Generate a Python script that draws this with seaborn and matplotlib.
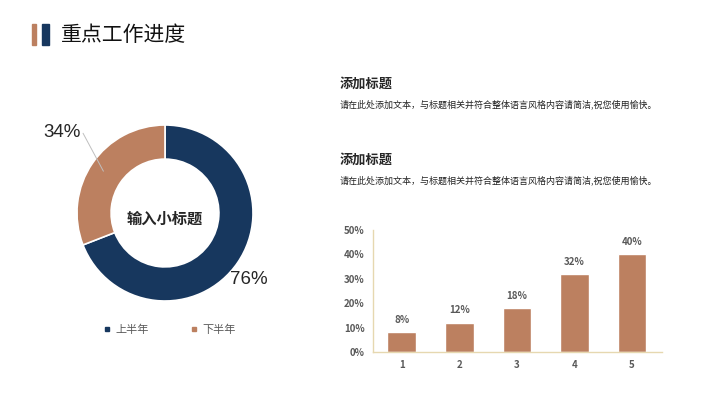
import numpy as np
import pandas as pd
import seaborn as sns
import matplotlib.pyplot as plt
from matplotlib.lines import Line2D
from matplotlib.patches import Rectangle

# data
donut_labels = ["上半年", "下半年"]
donut_values = [76, 34]
bar_categories = ["1", "2", "3", "4", "5"]
bar_values = [0.08, 0.12, 0.18, 0.32, 0.40]
bar_texts = ["8%", "12%", "18%", "32%", "40%"]
heading = "添加标题"
body = "请在此处添加文本，与标题相关并符合整体语言风格内容请简洁,祝您使用愉快。"

NAVY = "#17375E"
BROWN = "#BC8060"
AXIS = "#E6D8B0"
GRAY = "#595959"

sns.set_style("white")
plt.rcParams["font.family"] = ["Noto Sans CJK SC", "DejaVu Sans"]

W, H = 720, 405
fig = plt.figure(figsize=(7.2, 4.05), dpi=100)


def px(x, y, w, h):
    # pixel box (top-left origin) -> figure fraction
    return [x / W, 1 - (y + h) / H, w / W, h / H]


# title block
fig.patches.append(Rectangle((32 / W, 1 - 45 / H), 4 / W, 21 / H, transform=fig.transFigure,
                             color=BROWN))
fig.patches.append(Rectangle((42 / W, 1 - 45 / H), 7 / W, 21 / H, transform=fig.transFigure,
                             color=NAVY))
fig.text(61 / W, 1 - 35 / H, "重点工作进度", fontsize=15, va="center", color="#111111")

# text blocks
for y0 in (84, 160):
    fig.text(340 / W, 1 - y0 / H, heading, fontsize=9.5, fontweight="heavy", va="center")
    fig.text(340 / W, 1 - (y0 + 20) / H, body, fontsize=6.5, va="center", color="#222222")

# donut
ax1 = fig.add_axes(px(55, 103, 220, 220))
wedges, _ = ax1.pie(donut_values, colors=[NAVY, BROWN], startangle=90, counterclock=False,
                    radius=0.8, wedgeprops=dict(width=0.31, edgecolor="white", linewidth=1.2))
ax1.set_xlim(-1, 1)
ax1.set_ylim(-1, 1)
ax1.set_aspect("equal")
ax1.axis("off")
ax1.text(0, -0.05, "输入小标题", ha="center", va="center", fontsize=11, fontweight="heavy")
ax1.text(-0.94, 0.73, f"{donut_values[1]}%", ha="center", va="center", fontsize=13.5,
         family=["Liberation Sans", "DejaVu Sans"])
ax1.text(0.76, -0.6, f"{donut_values[0]}%", ha="center", va="center", fontsize=13.5,
         family=["Liberation Sans", "DejaVu Sans"])
ax1.plot([-0.745, -0.56], [0.725, 0.38], color="#BFBFBF", linewidth=0.7)

handles = [Line2D([], [], marker="s", linestyle="", color=c, markersize=3.5)
           for c in (NAVY, BROWN)]
fig.legend(handles, donut_labels, loc="center", bbox_to_anchor=(166 / W, 1 - 330 / H),
           ncol=2, frameon=False, fontsize=8, handletextpad=-0.2, columnspacing=3.0,
           labelcolor=GRAY)

# bar chart
ax2 = fig.add_axes(px(373, 230, 289, 122))
df = pd.DataFrame({"cat": bar_categories, "val": bar_values})
sns.barplot(data=df, x="cat", y="val", color=BROWN, width=0.5, saturation=1, ax=ax2)
ax2.set_xlim(-0.5, 4.52)
ax2.set_ylim(0, 0.5)
ax2.set_yticks(np.arange(0, 0.51, 0.1))
ax2.set_yticklabels([f"{int(round(v * 100))}%" for v in np.arange(0, 0.51, 0.1)])
ax2.set_xlabel("")
ax2.set_ylabel("")
for s in ("top", "right"):
    ax2.spines[s].set_visible(False)
for s in ("left", "bottom"):
    ax2.spines[s].set_color(AXIS)
    ax2.spines[s].set_linewidth(1)
ax2.tick_params(length=0, labelsize=7, labelcolor=GRAY, pad=6)
for lbl in ax2.get_xticklabels() + ax2.get_yticklabels():
    lbl.set_fontweight("bold")
for i, (v, t) in enumerate(zip(bar_values, bar_texts)):
    ax2.text(i, v + 0.03, t, ha="center", va="bottom", fontsize=7, fontweight="bold",
             color=GRAY)

fig.savefig("out.png", dpi=100)
